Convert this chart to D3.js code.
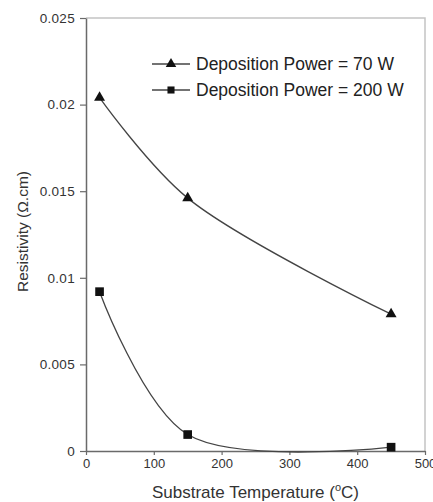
<!DOCTYPE html>
<html>
<head>
<meta charset="utf-8">
<script src="https://cdn.jsdelivr.net/npm/d3@7"></script>
<style>
  body { margin: 0; background: #fff; }
  svg { display: block; font-family: "Liberation Sans", Arial, sans-serif; }
</style>
</head>
<body>
<svg id="chart" width="433" height="502"></svg>
<script>
// data
const temps = [20, 150, 450];
const power70 = [0.0204, 0.0146, 0.0079];
const power200 = [0.0092, 0.00095, 0.00022];
const seriesNames = ['Deposition Power = 70 W', 'Deposition Power = 200 W'];
const xTicks = [0, 100, 200, 300, 400, 500];
const yTicks = [0, 0.005, 0.01, 0.015, 0.02, 0.025];
const yTickLabels = ['0', '0.005', '0.01', '0.015', '0.02', '0.025'];

const svg = d3.select('#chart');
const margin = { left: 86, right: 8, top: 18, bottom: 51 };
const width = 433 - margin.left - margin.right;
const height = 502 - margin.top - margin.bottom;

const x = d3.scaleLinear().domain([0, 500]).range([margin.left, margin.left + width]);
const y = d3.scaleLinear().domain([0, 0.025]).range([margin.top + height, margin.top]);

// frame (top and right are light)
svg.append('path')
    .attr('d', `M${x(0)},${y(0.025)}H${x(500)}V${y(0)}`)
    .attr('fill', 'none')
    .attr('stroke', '#c4c4c4')
    .attr('stroke-width', 1.5);

// axes
const xAxis = svg.append('g')
    .attr('transform', `translate(0,${y(0)})`)
    .call(d3.axisBottom(x).tickValues(xTicks).tickSize(4).tickSizeOuter(0).tickPadding(4));
const yAxis = svg.append('g')
    .attr('transform', `translate(${x(0)},0)`)
    .call(d3.axisLeft(y).tickValues(yTicks).tickFormat((d, i) => yTickLabels[i]).tickSize(6).tickSizeOuter(0).tickPadding(5));

[xAxis, yAxis].forEach(g => {
    g.select('.domain').attr('stroke', '#6a6a6a').attr('stroke-width', 1.5);
    g.selectAll('.tick line').attr('stroke', '#6a6a6a').attr('stroke-width', 1.2);
    g.selectAll('.tick text').attr('fill', '#333').style('font-size', '13.5px').style('letter-spacing', '0.3px');
});
xAxis.selectAll('.tick text').style('font-size', '13px').style('letter-spacing', '0px');

// axis titles
svg.append('text')
    .attr('transform', `translate(23,${(y(0) + y(0.025)) / 2 - 3}) rotate(-90)`)
    .attr('text-anchor', 'middle')
    .attr('dy', '0.35em')
    .attr('fill', '#333')
    .style('font-size', '15.5px')
    .text('Resistivity (Ω.cm)');

const xt = svg.append('text')
    .attr('x', (x(0) + x(500)) / 2)
    .attr('y', 498)
    .attr('text-anchor', 'middle')
    .attr('fill', '#333')
    .style('font-size', '17px');
xt.append('tspan').text('Substrate Temperature (');
xt.append('tspan').attr('dy', -7).style('font-size', '11px').text('o');
xt.append('tspan').attr('dy', 7).text('C)');

// curves
const line = d3.line()
    .x(d => x(d[0]))
    .y(d => y(d[1]))
    .curve(d3.curveCatmullRom.alpha(0.5));

const series = [
    { name: seriesNames[0], values: power70, symbol: d3.symbolTriangle },
    { name: seriesNames[1], values: power200, symbol: d3.symbolSquare }
];

series.forEach(s => {
    const pts = temps.map((t, i) => [t, s.values[i]]);
    svg.append('path')
        .attr('d', line(pts))
        .attr('fill', 'none')
        .attr('stroke', '#444')
        .attr('stroke-width', 1.3);
    svg.append('g').selectAll('path')
        .data(pts)
        .join('path')
        .attr('transform', d => `translate(${x(d[0])},${y(d[1])})`)
        .attr('d', d3.symbol().type(s.symbol).size(s.symbol === d3.symbolSquare ? 75 : 52))
        .attr('fill', '#111');
});

// legend
const legend = svg.append('g').attr('transform', 'translate(152,64)');
series.forEach((s, i) => {
    const row = legend.append('g').attr('transform', `translate(0,${i * 26})`);
    row.append('line')
        .attr('x1', 0).attr('x2', 38)
        .attr('stroke', '#444').attr('stroke-width', 1.3);
    row.append('path')
        .attr('transform', 'translate(19,0)')
        .attr('d', d3.symbol().type(s.symbol).size(s.symbol === d3.symbolSquare ? 50 : 48))
        .attr('fill', '#111');
    row.append('text')
        .attr('x', 44)
        .attr('dy', '0.35em')
        .attr('fill', '#222')
        .style('font-size', '17.5px')
        .text(s.name);
});
</script>
</body>
</html>
